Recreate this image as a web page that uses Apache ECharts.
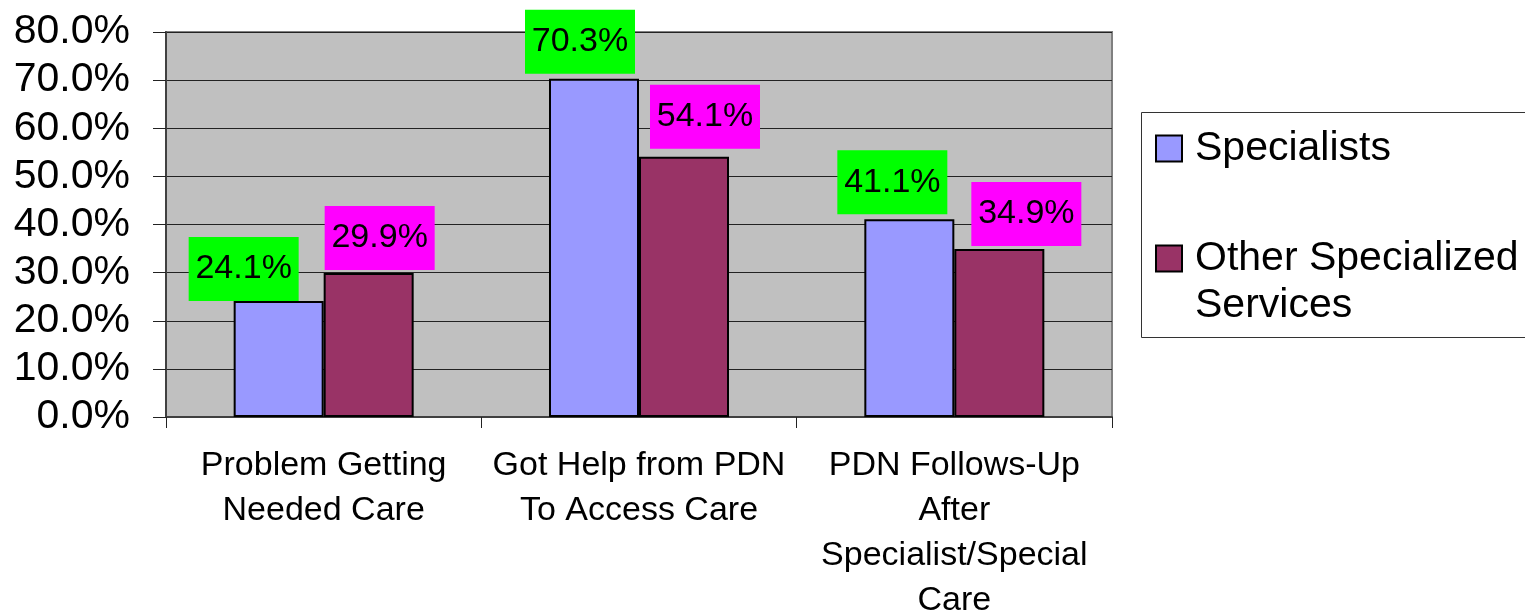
<!DOCTYPE html>
<html>
<head>
<meta charset="utf-8">
<script src="https://cdn.jsdelivr.net/npm/echarts@6/dist/echarts.min.js"></script>
<style>
html,body{margin:0;padding:0;background:#fff;}
#chart{width:1525px;height:613px;}
</style>
</head>
<body>
<div id="chart"></div>
<script>
const categories = ['Problem Getting\nNeeded Care', 'Got Help from PDN\nTo Access Care', 'PDN Follows-Up\nAfter\nSpecialist/Special\nCare'];
const seriesNames = ['Specialists', 'Other Specialized Services'];
const specialists = [24.1, 70.3, 41.1];
const otherServices = [29.9, 54.1, 34.9];
const yTicks = [0, 10, 20, 30, 40, 50, 60, 70, 80];

// label placement tweaks (style only)
const specLabelOffsets = [[-35, 0], [-14, -5], [-17, -5]];
const otherLabelOffsets = [[11, -3], [21, -8], [27, -3]];

const FONT = "'Liberation Sans', Arial, Helvetica, sans-serif";

function makeData(values, offsets) {
  return values.map((v, i) => ({ value: v, label: { offset: offsets[i] } }));
}

const labelBase = {
  show: true,
  position: 'top',
  distance: 0,
  formatter: p => p.value.toFixed(1) + '%',
  fontFamily: FONT,
  fontSize: 34,
  lineHeight: 34,
  color: '#000',
  width: 110,
  align: 'center',
  padding: [15, 0, 15, 0]
};

const chart = echarts.init(document.getElementById('chart'), null, { renderer: 'canvas' });
chart.setOption({
  animation: false,
  backgroundColor: '#fff',
  textStyle: { fontFamily: FONT },
  grid: {
    left: 166, top: 32, width: 946, height: 385,
    outerBoundsMode: 'none', containLabel: false,
    show: true, backgroundColor: '#c0c0c0', borderColor: '#808080', borderWidth: 2
  },
  graphic: [{
    type: 'rect', left: 1141, top: 112, z: -1,
    shape: { width: 400, height: 225 },
    style: { fill: '#fff', stroke: '#333', lineWidth: 1 }
  }],
  legend: [{
    data: [seriesNames[0]],
    left: 1155, top: 128, padding: 0,
    itemWidth: 26, itemHeight: 26,
    icon: 'rect',
    textStyle: { fontFamily: FONT, fontSize: 41, lineHeight: 40, color: '#000', padding: [0, 0, 0, 8] }
  }, {
    data: [seriesNames[1]],
    left: 1155, top: 188, padding: 0,
    itemWidth: 26, itemHeight: 26,
    icon: 'rect',
    formatter: () => '\nOther Specialized\nServices',
    textStyle: { fontFamily: FONT, fontSize: 41, lineHeight: 47, color: '#000', padding: [0, 0, 0, 8] }
  }],
  xAxis: {
    type: 'category',
    data: categories,
    axisLine: { lineStyle: { color: '#404040', width: 2 } },
    axisTick: { show: true, length: 11, lineStyle: { color: '#222', width: 1 } },
    axisLabel: {
      interval: 0, margin: 26, fontFamily: FONT, fontSize: 34, lineHeight: 45, color: '#000', align: 'center'
    },
    splitLine: { show: false }
  },
  yAxis: {
    type: 'value',
    min: yTicks[0], max: yTicks[yTicks.length - 1], interval: 10,
    axisLine: { show: true, lineStyle: { color: '#404040', width: 2 } },
    axisTick: { show: true, length: 13, lineStyle: { color: '#222', width: 1 } },
    axisLabel: {
      margin: 36, fontFamily: FONT, fontSize: 41, color: '#000',
      formatter: v => v.toFixed(1) + '%'
    },
    splitLine: { show: true, lineStyle: { color: '#222', width: 1 } }
  },
  series: [{
    name: seriesNames[0],
    type: 'bar',
    data: makeData(specialists, specLabelOffsets),
    barWidth: 90,
    barGap: '0%',
    itemStyle: { color: '#9999ff', borderColor: '#000', borderWidth: 2 },
    label: Object.assign({}, labelBase, { backgroundColor: '#00ff00' })
  }, {
    name: seriesNames[1],
    type: 'bar',
    data: makeData(otherServices, otherLabelOffsets),
    barWidth: 90,
    barGap: '0%',
    itemStyle: { color: '#993366', borderColor: '#000', borderWidth: 2 },
    label: Object.assign({}, labelBase, { backgroundColor: '#ff00ff' })
  }]
});
</script>
</body>
</html>
